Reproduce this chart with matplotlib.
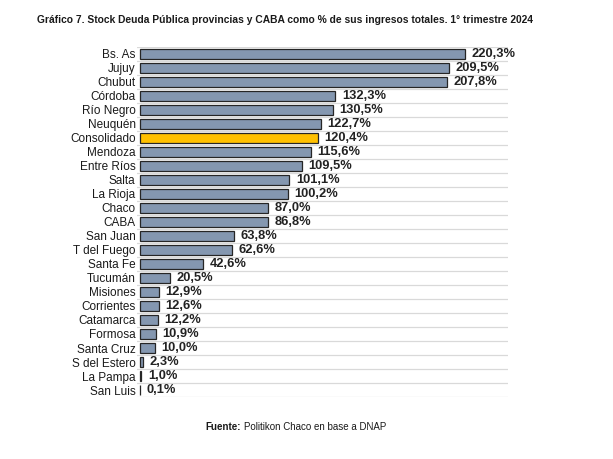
import matplotlib
matplotlib.use("Agg")
import matplotlib.pyplot as plt
from matplotlib import font_manager

# datos del gráfico (de arriba hacia abajo)
provincias = ["Bs. As", "Jujuy", "Chubut", "Córdoba", "Río Negro", "Neuquén",
              "Consolidado", "Mendoza", "Entre Ríos", "Salta", "La Rioja", "Chaco",
              "CABA", "San Juan", "T del Fuego", "Santa Fe", "Tucumán", "Misiones",
              "Corrientes", "Catamarca", "Formosa", "Santa Cruz", "S del Estero",
              "La Pampa", "San Luis"]
valores = [220.3, 209.5, 207.8, 132.3, 130.5, 122.7, 120.4, 115.6, 109.5, 101.1,
           100.2, 87.0, 86.8, 63.8, 62.6, 42.6, 20.5, 12.9, 12.6, 12.2, 10.9,
           10.0, 2.3, 1.0, 0.1]
titulo = "Gráfico 7. Stock Deuda Pública provincias y CABA como % de sus ingresos totales. 1° trimestre 2024"

nombres = {f.name for f in font_manager.fontManager.ttflist}
fuente = "Liberation Sans Narrow" if "Liberation Sans Narrow" in nombres else "Liberation Sans"
plt.rcParams['font.family'] = [fuente, 'DejaVu Sans']

fig = plt.figure(figsize=(6.13, 4.59), dpi=100)
ax = fig.add_axes([0.2235, 0.135, 0.6055, 0.763])

colores = ['#ffc000' if p == "Consolidado" else '#8497b0' for p in provincias]
pos = list(range(len(provincias)))
ax.barh(pos, valores, height=0.7, color=colores, edgecolor='#262626',
        linewidth=0.9, zorder=3)

# lineas entre barras
for i in range(-1, len(provincias)):
    ax.axhline(i + 0.5, color='#d9d9d9', linewidth=0.9, zorder=1)

for y, v in zip(pos, valores):
    ax.text(v + 4.5, y, f"{v:.1f}%".replace('.', ','), va='center', ha='left',
            fontsize=9.3, fontweight='bold', color='#222222')

ax.set_yticks(pos)
ax.set_yticklabels(provincias, fontsize=8.5, color='#1a1a1a')
ax.tick_params(axis='y', length=0, pad=1)
ax.set_xticks([])
ax.set_xlim(-2, 249.5)
ax.set_ylim(len(provincias) - 0.5, -0.5)
for s in ax.spines.values():
    s.set_visible(False)

fig.text(37 / 613, 1 - 20 / 459, titulo, fontsize=7.4, fontweight='bold',
         ha='left', va='center', color='#1a1a1a')
t1 = fig.text(205 / 613, 1 - 427 / 459, "Fuente:", fontsize=7, fontweight='bold',
              ha='left', va='center', color='#1a1a1a')
fig.add_artist(plt.Annotation("Politikon Chaco en base a DNAP", xy=(1, 0.5),
                              xycoords=t1, xytext=(2.5, 0), textcoords='offset points',
                              fontsize=7, ha='left', va='center', color='#1a1a1a'))

fig.savefig("out.png", dpi=100)
